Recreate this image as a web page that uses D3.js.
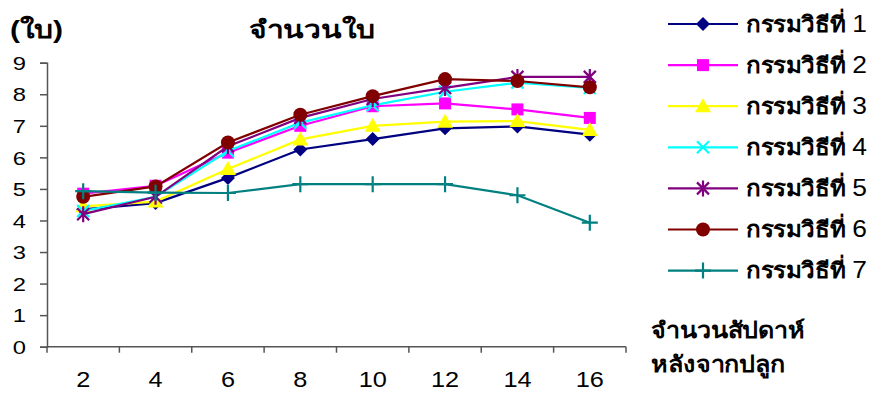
<!DOCTYPE html>
<html>
<head>
<meta charset="utf-8">
<script src="https://cdn.jsdelivr.net/npm/d3@7/dist/d3.min.js"></script>
<style>
  html, body { margin: 0; padding: 0; background: #fff; }
  svg { display: block; font-family: "Liberation Sans", Arial, "DejaVu Sans", sans-serif; }
</style>
</head>
<body>
<svg id="chart" width="877" height="394"></svg>
<script>
// Weeks after planting
const weeks = ["2", "4", "6", "8", "10", "12", "14", "16"];
const yTicks = [0, 1, 2, 3, 4, 5, 6, 7, 8, 9];

// Leaf count per treatment
const treatment1 = [4.35, 4.55, 5.35, 6.25, 6.58, 6.92, 6.98, 6.72];
const treatment2 = [4.85, 5.10, 6.15, 7.00, 7.62, 7.71, 7.52, 7.25];
const treatment3 = [4.45, 4.60, 5.63, 6.57, 7.00, 7.13, 7.15, 6.87];
const treatment4 = [4.30, 4.75, 6.20, 7.10, 7.65, 8.08, 8.37, 8.20];
const treatment5 = [4.20, 4.75, 6.35, 7.25, 7.85, 8.20, 8.55, 8.55];
const treatment6 = [4.75, 5.08, 6.47, 7.35, 7.94, 8.48, 8.42, 8.22];
const treatment7 = [4.93, 4.88, 4.87, 5.15, 5.15, 5.15, 4.80, 3.93];

const seriesLabel = "กรรมวิธีที่";
const seriesNumbers = ["1", "2", "3", "4", "5", "6", "7"];
const seriesValues = [treatment1, treatment2, treatment3, treatment4, treatment5, treatment6, treatment7];
const seriesColors = ["#000080", "#ff00ff", "#ffff00", "#00ffff", "#800080", "#800000", "#008080"];
const seriesMarkers = ["diamond", "square", "triangle", "x", "star", "circle", "plus"];

const svg = d3.select("#chart");
const plotLeft = 47, plotRight = 626, plotTop = 62.7, plotBottom = 346.7;

const x = d3.scaleBand().domain(weeks).range([plotLeft, plotRight]);
const y = d3.scaleLinear().domain([0, 9]).range([plotBottom, plotTop]);

const axisColor = "#555";

// Text drawn with a slight horizontal stretch
function wideText(parent, px, py, sx, size, str, anchor) {
  return parent.append("text")
    .attr("transform", `translate(${px},${py}) scale(${sx},1)`)
    .attr("text-anchor", anchor || "start")
    .style("font-size", size + "px")
    .text(str);
}

// Y axis
const gy = svg.append("g").attr("transform", `translate(${plotLeft},0)`)
  .call(d3.axisLeft(y).tickValues(yTicks).tickSize(7).tickFormat(d3.format("d")));
gy.select(".domain").attr("stroke", axisColor).attr("stroke-width", 1.5);
gy.selectAll(".tick line").attr("stroke", axisColor).attr("stroke-width", 1.5);
gy.selectAll(".tick text")
  .attr("x", 0).attr("dy", "0.35em")
  .attr("transform", "translate(-21,0) scale(1.25,1)")
  .attr("fill", "#000").style("font-size", "19px");

// X axis: ticks sit on the band boundaries, labels at the band centers
const gx = svg.append("g").attr("transform", `translate(0,${plotBottom})`);
gx.append("line").attr("x1", plotLeft).attr("x2", plotRight).attr("stroke", axisColor).attr("stroke-width", 1.5);
const bounds = weeks.map(w => x(w)).concat([x(weeks[weeks.length - 1]) + x.bandwidth()]);
gx.selectAll("line.tk").data(bounds).join("line").attr("class", "tk")
  .attr("x1", d => d).attr("x2", d => d).attr("y1", 0).attr("y2", 6)
  .attr("stroke", axisColor).attr("stroke-width", 1.5);
weeks.forEach(w => wideText(gx, x(w) + x.bandwidth() / 2, 40, 1.15, 22, w, "middle"));

// Marker shapes
function drawMarker(g, type, color) {
  switch (type) {
    case "diamond":
      g.append("path").attr("d", "M0,-7L7,0L0,7L-7,0Z").attr("fill", color); break;
    case "square":
      g.append("rect").attr("x", -6).attr("y", -6).attr("width", 12).attr("height", 12).attr("fill", color); break;
    case "triangle":
      g.append("path").attr("d", "M0,-8L8,6L-8,6Z").attr("fill", color); break;
    case "x":
      g.append("path").attr("d", "M-6,-6L6,6M-6,6L6,-6").attr("stroke", color).attr("stroke-width", 2.2); break;
    case "star":
      g.append("path").attr("d", "M-6,-6L6,6M-6,6L6,-6M0,-8L0,8").attr("stroke", color).attr("stroke-width", 2.2); break;
    case "circle":
      g.append("circle").attr("r", 7).attr("fill", color); break;
    case "plus":
      g.append("path").attr("d", "M-8,0L8,0M0,-8L0,8").attr("stroke", color).attr("stroke-width", 2.2); break;
  }
}

const line = d3.line().x((d, i) => x(weeks[i]) + x.bandwidth() / 2).y(d => y(d));

seriesValues.forEach((vals, si) => {
  const g = svg.append("g");
  g.append("path").datum(vals).attr("d", line).attr("fill", "none")
    .attr("stroke", seriesColors[si]).attr("stroke-width", 2.2);
  vals.forEach((v, i) => {
    const m = g.append("g").attr("transform", `translate(${x(weeks[i]) + x.bandwidth() / 2},${y(v)})`);
    drawMarker(m, seriesMarkers[si], seriesColors[si]);
  });
});

// Legend
const legend = svg.append("g");
seriesNumbers.forEach((num, si) => {
  const ly = 24 + si * 41.1;
  const g = legend.append("g").attr("transform", `translate(0,${ly})`);
  g.append("line").attr("x1", 668).attr("x2", 738).attr("stroke", seriesColors[si]).attr("stroke-width", 2.2);
  const m = g.append("g").attr("transform", "translate(703,0)");
  drawMarker(m, seriesMarkers[si], seriesColors[si]);
  const t = g.append("text").attr("transform", "translate(746,7.7) scale(1.1,1)")
    .style("font-size", "22px").style("font-weight", "bold");
  t.append("tspan").text(seriesLabel + " ");
  t.append("tspan").style("font-size", "24px").style("font-weight", "normal").text(num);
});

// Titles
wideText(svg, 312, 38, 1.25, 24, "จำนวนใบ", "middle").style("font-weight", "bold");
wideText(svg, 10, 38, 1.25, 24, "(ใบ)").style("font-weight", "bold");
wideText(svg, 651, 338, 1.14, 22, "จำนวนสัปดาห์").style("font-weight", "bold");
wideText(svg, 651, 371.5, 1.14, 22, "หลังจากปลูก").style("font-weight", "bold");
</script>
</body>
</html>
